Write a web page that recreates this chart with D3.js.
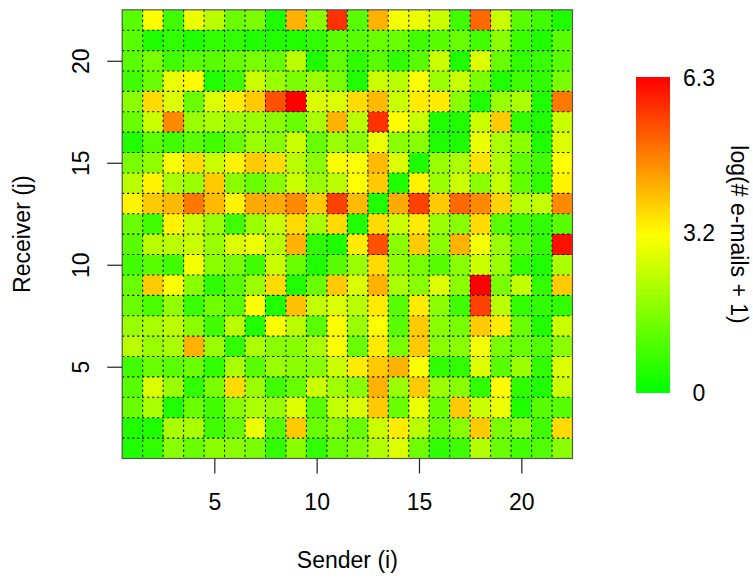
<!DOCTYPE html>
<html>
<head>
<meta charset="utf-8">
<script src="https://cdn.jsdelivr.net/npm/d3@7"></script>
<style>
  html, body { margin: 0; padding: 0; background: #fff; }
  svg { display: block; font-family: "Liberation Sans", Arial, Helvetica, sans-serif; }
</style>
</head>
<body>
<svg id="chart" width="753" height="578"></svg>
<script>
// Senders (columns) and receivers (rows), numbered 1..22
const senders = d3.range(1, 23);
const receivers = d3.range(1, 23);

// log(# e-mails + 1) for every sender/receiver pair.
// One row per receiver, from receiver 22 (top) down to receiver 1 (bottom);
// entries run over senders 1..22.
const emailLog = [
  [1.1, 3.1, 0.8, 2.9, 2.3, 1.3, 1.5, 0.4, 4.1, 1.7, 5.7, 1.1, 4.1, 3.0, 2.9, 2.5, 0.8, 5.0, 2.5, 1.1, 0.8, 0.4], // 22
  [1.1, 0.4, 0.6, 0.4, 0.6, 0.6, 0.4, 0.4, 0.4, 0.6, 1.1, 1.1, 1.3, 1.3, 0.8, 1.1, 1.3, 0.8, 1.7, 0.7, 0.4, 1.1], // 21
  [1.1, 1.5, 0.8, 1.1, 1.1, 1.3, 1.5, 1.3, 2.3, 0.4, 1.2, 0.6, 1.1, 0.6, 1.1, 2.5, 0.4, 2.7, 1.3, 0.6, 0.7, 1.1], // 20
  [0.8, 1.3, 2.9, 3.2, 0.4, 0.8, 2.5, 1.9, 1.5, 1.9, 1.5, 0.4, 2.5, 2.3, 3.1, 1.9, 2.5, 1.5, 0.4, 0.8, 0.6, 1.5], // 19
  [1.7, 3.6, 2.7, 1.3, 2.7, 3.4, 3.8, 5.3, 6.3, 2.7, 2.7, 3.6, 4.0, 2.5, 3.4, 3.4, 1.7, 0.4, 1.9, 2.1, 0.4, 4.8], // 18
  [1.3, 2.5, 4.6, 1.9, 2.1, 1.9, 1.9, 1.7, 1.3, 2.1, 4.1, 2.3, 5.7, 3.2, 2.5, 0.4, 0.4, 2.5, 3.8, 0.6, 0.4, 2.5], // 17
  [0.4, 1.1, 0.8, 1.1, 0.8, 1.3, 1.9, 1.7, 2.5, 1.3, 1.9, 1.7, 2.9, 1.7, 1.7, 0.4, 0.4, 2.9, 2.1, 1.7, 0.4, 2.7], // 16
  [1.5, 1.8, 3.1, 3.6, 2.5, 3.3, 3.8, 3.6, 2.3, 1.7, 3.1, 3.1, 4.0, 2.7, 0.4, 1.9, 2.1, 3.5, 2.2, 1.2, 0.8, 3.1], // 15
  [2.3, 3.3, 2.1, 1.9, 3.8, 1.7, 1.3, 1.7, 2.5, 1.9, 2.3, 3.1, 3.8, 0.4, 3.3, 1.9, 2.5, 1.7, 2.4, 1.2, 0.6, 3.3], // 14
  [3.3, 3.8, 4.0, 4.8, 4.0, 3.3, 4.2, 4.2, 4.6, 3.8, 5.5, 4.0, 0.4, 4.2, 5.5, 3.8, 5.0, 4.6, 3.7, 2.3, 2.4, 4.6], // 13
  [1.3, 0.8, 3.3, 2.5, 1.9, 0.8, 1.9, 2.5, 3.6, 2.1, 3.6, 0.4, 3.6, 2.5, 3.4, 1.9, 1.7, 3.6, 1.1, 0.8, 0.6, 1.1], // 12
  [1.1, 2.3, 2.3, 2.5, 1.9, 2.7, 2.9, 2.3, 4.1, 0.6, 0.4, 3.4, 5.3, 1.7, 3.8, 1.7, 4.1, 3.0, 1.9, 1.1, 0.6, 6.1], // 11
  [0.8, 1.1, 0.8, 3.0, 1.7, 1.5, 0.8, 2.5, 1.3, 0.4, 1.1, 1.9, 3.6, 1.7, 1.5, 1.1, 1.7, 2.5, 1.9, 0.6, 0.4, 2.1], // 10
  [1.3, 3.8, 3.1, 1.7, 0.6, 1.1, 1.9, 3.6, 0.4, 1.3, 3.8, 2.7, 4.1, 2.1, 1.7, 2.7, 1.7, 6.3, 1.5, 2.4, 0.6, 3.8], // 9
  [1.3, 0.9, 1.8, 0.7, 1.4, 1.1, 3.1, 0.4, 3.9, 2.4, 2.7, 2.3, 3.4, 1.1, 3.4, 1.7, 0.8, 5.5, 2.3, 0.6, 0.6, 0.6], // 8
  [1.9, 2.1, 2.3, 1.7, 0.8, 2.3, 0.4, 3.1, 2.3, 1.1, 3.1, 1.9, 3.1, 1.1, 3.8, 1.7, 1.5, 3.8, 3.4, 1.3, 0.4, 2.5], // 7
  [2.3, 1.9, 2.1, 4.1, 1.9, 0.6, 2.1, 1.7, 1.7, 2.1, 3.1, 1.3, 3.4, 1.5, 3.8, 1.7, 1.7, 3.0, 1.5, 1.3, 1.0, 1.7], // 6
  [0.8, 1.3, 1.1, 1.3, 0.6, 2.1, 1.1, 1.9, 1.7, 1.7, 2.5, 3.4, 3.8, 4.1, 3.1, 0.6, 0.6, 2.7, 1.1, 1.9, 0.6, 2.7], // 5
  [1.1, 2.7, 1.9, 0.6, 1.5, 3.6, 1.9, 0.8, 1.3, 2.5, 2.0, 1.7, 4.1, 1.9, 3.8, 1.9, 1.7, 0.6, 3.2, 0.6, 0.4, 2.5], // 4
  [1.3, 2.1, 0.4, 1.3, 0.8, 1.7, 2.1, 1.9, 2.7, 1.1, 2.4, 2.7, 3.8, 1.3, 2.9, 1.3, 3.8, 2.5, 2.9, 0.4, 1.1, 1.1], // 3
  [0.4, 0.4, 2.1, 2.1, 0.8, 1.3, 2.9, 1.1, 3.8, 1.3, 1.7, 1.3, 2.5, 3.4, 2.3, 1.3, 1.7, 3.8, 1.5, 1.7, 0.8, 3.6], // 2
  [0.4, 0.6, 1.7, 1.3, 1.7, 1.7, 1.5, 0.6, 1.7, 0.6, 1.3, 1.6, 2.2, 2.7, 1.4, 0.6, 0.8, 2.2, 1.3, 0.8, 1.0, 1.7]  // 1
];

// Axis ticks and colour-key labels
const axisTicks = [5, 10, 15, 20];
const keyTicks = [0, 3.2, 6.3];
const valueMax = 6.3;

const svg = d3.select("#chart");
const FONT = 23;

// Plot region
const plot = { left: 122.2, right: 572.5, top: 9.8, bottom: 458.5 };
const x = d3.scaleLinear().domain([0.5, 22.5]).range([plot.left, plot.right]);
const y = d3.scaleLinear().domain([0.5, 22.5]).range([plot.bottom, plot.top]);

// green -> yellow -> red colour ramp
const color = d3.scaleLinear()
  .domain([0, valueMax / 2, valueMax])
  .range(["#00ff00", "#ffff00", "#ff0000"])
  .clamp(true);

// Cells
const cells = [];
receivers.slice().reverse().forEach((r, ri) => {
  senders.forEach((s, si) => cells.push({ sender: s, receiver: r, value: emailLog[ri][si] }));
});

svg.append("g").selectAll("rect").data(cells).join("rect")
  .attr("x", d => x(d.sender - 0.5))
  .attr("y", d => y(d.receiver + 0.5))
  .attr("width", d => x(d.sender + 0.5) - x(d.sender - 0.5))
  .attr("height", d => y(d.receiver - 0.5) - y(d.receiver + 0.5))
  .attr("fill", d => color(d.value))
  .attr("shape-rendering", "crispEdges");

// Dotted grid at cell boundaries
const grid = svg.append("g")
  .attr("stroke", "#000")
  .attr("stroke-width", 1.1)
  .attr("stroke-dasharray", "2,3");
grid.selectAll("line.v").data(d3.range(1.5, 22.5, 1)).join("line")
  .attr("class", "v")
  .attr("x1", d => x(d)).attr("x2", d => x(d))
  .attr("y1", plot.top).attr("y2", plot.bottom);
grid.selectAll("line.h").data(d3.range(1.5, 22.5, 1)).join("line")
  .attr("class", "h")
  .attr("y1", d => y(d)).attr("y2", d => y(d))
  .attr("x1", plot.left).attr("x2", plot.right);

// Frame
svg.append("rect")
  .attr("x", plot.left).attr("y", plot.top)
  .attr("width", plot.right - plot.left).attr("height", plot.bottom - plot.top)
  .attr("fill", "none").attr("stroke", "#555").attr("stroke-width", 1.2);

// Bottom axis
const xAxis = svg.append("g")
  .attr("transform", `translate(0,${plot.bottom})`)
  .call(d3.axisBottom(x).tickValues(axisTicks).tickSize(15).tickPadding(20).tickSizeOuter(0));
xAxis.select(".domain").remove();
xAxis.selectAll(".tick line").attr("stroke", "#222").attr("stroke-width", 1.2);
xAxis.selectAll(".tick text")
  .attr("font-size", FONT).attr("font-family", null).attr("fill", "#000");

// Left axis, labels parallel to the axis
const yAxis = svg.append("g")
  .attr("transform", `translate(${plot.left},0)`)
  .call(d3.axisLeft(y).tickValues(axisTicks).tickSize(15).tickSizeOuter(0));
yAxis.select(".domain").remove();
yAxis.selectAll(".tick line").attr("stroke", "#222").attr("stroke-width", 1.2);
yAxis.selectAll(".tick text")
  .attr("font-size", FONT).attr("font-family", null).attr("fill", "#000")
  .attr("x", null).attr("dy", null)
  .attr("text-anchor", "middle")
  .attr("transform", `translate(${89 - plot.left},0) rotate(-90)`);

// Axis titles
svg.append("text")
  .attr("x", (plot.left + plot.right) / 2).attr("y", 568)
  .attr("text-anchor", "middle").attr("font-size", FONT)
  .text("Sender (i)");
svg.append("text")
  .attr("transform", `translate(30,${(plot.top + plot.bottom) / 2}) rotate(-90)`)
  .attr("text-anchor", "middle").attr("font-size", FONT)
  .text("Receiver (j)");

// Colour key
const key = { left: 636, right: 670, top: 77, bottom: 392 };
const yc = d3.scaleLinear().domain([0, valueMax]).range([key.bottom, key.top]);
const steps = 100;
const bands = d3.range(steps).map(i => ({ lo: valueMax * i / steps, hi: valueMax * (i + 1) / steps }));
svg.append("g").selectAll("rect").data(bands).join("rect")
  .attr("x", key.left).attr("width", key.right - key.left)
  .attr("y", d => yc(d.hi)).attr("height", d => yc(d.lo) - yc(d.hi) + 0.5)
  .attr("fill", d => color((d.lo + d.hi) / 2))
  .attr("shape-rendering", "crispEdges");

const keyAxis = svg.append("g")
  .attr("transform", `translate(${key.right},0)`)
  .call(d3.axisRight(yc).tickValues(keyTicks).tickSize(0).tickFormat(d => String(d)));
keyAxis.select(".domain").remove();
keyAxis.selectAll(".tick text")
  .attr("font-size", FONT).attr("font-family", null).attr("fill", "#000")
  .attr("x", 699 - key.right).attr("text-anchor", "middle").attr("dy", "0.36em");

svg.append("text")
  .attr("transform", `translate(731,${(key.top + key.bottom) / 2}) rotate(90)`)
  .attr("text-anchor", "middle").attr("font-size", FONT)
  .text("log(# e-mails + 1)");
</script>
</body>
</html>
